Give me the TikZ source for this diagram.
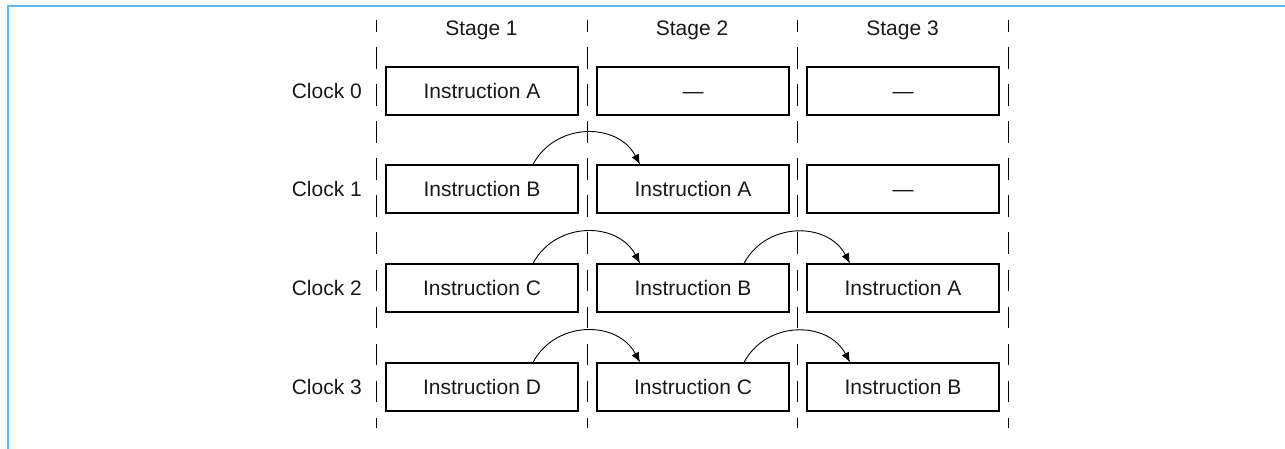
\documentclass[tikz,border=0pt]{standalone}
\usepackage{fontspec}
\setmainfont{Liberation Sans}
\usetikzlibrary{arrows.meta}
\definecolor{framebl}{RGB}{96,184,255}
\begin{document}
\begin{tikzpicture}[x=1pt,y=1pt,
  txt/.style={font=\fontsize{21}{25}\selectfont,text=black!90,text height=15pt,text depth=0pt},
  box/.style={txt,draw,line width=1.2pt,minimum width=192pt,minimum height=48pt,inner sep=0pt},
  lbl/.style={txt,inner sep=0pt},
  sep/.style={line width=1pt,dash pattern=on 21.5pt off 15.5pt,dash phase=9.5pt},
  flow/.style={line width=0.9pt,-{Latex[length=10pt,width=8pt]},looseness=1.15}]
\useasboundingbox (0,0) rectangle (1285,-449);
\clip (0,0) rectangle (1285,-449);
\draw[framebl,line width=2.2pt] (8,-6) rectangle (1300,-470);
% separators
\foreach \x [count=\i] in {376,587,797,1008}{
  \coordinate (t\i) at (\x,-20);
  \coordinate (b\i) at (\x,-428);
  \draw[sep] (t\i) -- (b\i);
}
% headers
\node[lbl] (h1) at (481.5,-28) {Stage 1};
\node[lbl] (h2) at (692,-28) {Stage 2};
\node[lbl] (h3) at (902.5,-28) {Stage 3};
% clock labels
\node[lbl,anchor=east] (k0) at (362,-91) {Clock 0};
\node[lbl,anchor=east] (k1) at (362,-189) {Clock 1};
\node[lbl,anchor=east] (k2) at (362,-288) {Clock 2};
\node[lbl,anchor=east] (k3) at (362,-387) {Clock 3};
% boxes: s<col><row>
\node[box] (s10) at (482,-91) {Instruction A};
\node[box] (s20) at (693,-91) {—};
\node[box] (s30) at (903,-91) {—};
\node[box] (s11) at (482,-189) {Instruction B};
\node[box] (s21) at (693,-189) {Instruction A};
\node[box] (s31) at (903,-189) {—};
\node[box] (s12) at (482,-288) {Instruction C};
\node[box] (s22) at (693,-288) {Instruction B};
\node[box] (s32) at (903,-288) {Instruction A};
\node[box] (s13) at (482,-387) {Instruction D};
\node[box] (s23) at (693,-387) {Instruction C};
\node[box] (s33) at (903,-387) {Instruction B};
% flows
\draw[flow] ([xshift=51pt]s11.north) to[out=62,in=118] ([xshift=-53pt]s21.north);
\draw[flow] ([xshift=51pt]s12.north) to[out=62,in=118] ([xshift=-53pt]s22.north);
\draw[flow] ([xshift=51pt]s22.north) to[out=62,in=118] ([xshift=-53pt]s32.north);
\draw[flow] ([xshift=51pt]s13.north) to[out=62,in=118] ([xshift=-53pt]s23.north);
\draw[flow] ([xshift=51pt]s23.north) to[out=62,in=118] ([xshift=-53pt]s33.north);
\end{tikzpicture}
\end{document}
